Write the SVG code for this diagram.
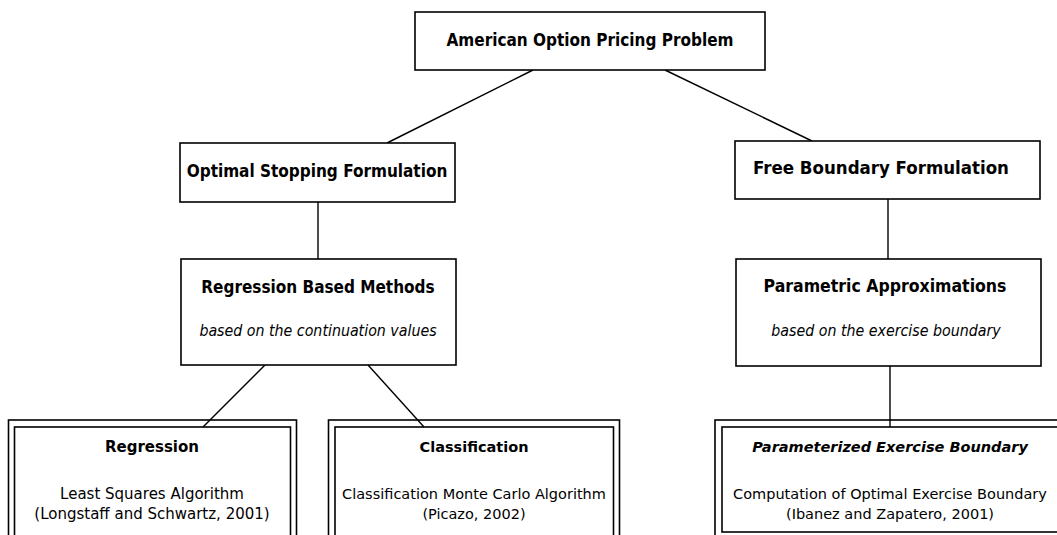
<svg xmlns="http://www.w3.org/2000/svg" width="1057" height="535" viewBox="0 0 1057 535">
  <style>
    .box { fill: #ffffff; stroke: #000000; stroke-width: 1.6; }
    .frame { fill: none; stroke: #000000; stroke-width: 1.6; }
    .link { stroke: #000000; stroke-width: 1.4; fill: none; }
    .head { font-family: "DejaVu Sans Condensed", "DejaVu Sans", sans-serif; font-weight: bold; font-size: 17px; text-anchor: middle; fill: #000; }
    .sub { font-family: "DejaVu Sans Condensed", "DejaVu Sans", sans-serif; font-style: oblique; font-size: 15.8px; text-anchor: middle; fill: #000; }
    .leafhead { font-family: "DejaVu Sans", sans-serif; font-weight: bold; font-size: 14.5px; text-anchor: middle; fill: #000; }
    .leaf { font-family: "DejaVu Sans", sans-serif; font-size: 14.5px; text-anchor: middle; fill: #000; }
  </style>
  <rect width="1057" height="535" fill="#ffffff"/>

  <!-- connectors -->
  <g id="connectors">
    <line class="link" x1="533" y1="70" x2="387" y2="143"/>
    <line class="link" x1="665" y1="70" x2="812" y2="141"/>
    <line class="link" x1="318" y1="202" x2="318" y2="259"/>
    <line class="link" x1="888" y1="199" x2="888" y2="259"/>
    <line class="link" x1="265" y1="365" x2="203" y2="427"/>
    <line class="link" x1="368" y1="365" x2="424" y2="427"/>
    <line class="link" x1="890" y1="366" x2="890" y2="427"/>
  </g>

  <g id="root">
    <rect class="box" x="415" y="12" width="350" height="58"/>
    <text class="head" x="590" y="46">American Option Pricing Problem</text>
  </g>

  <g id="optimal-stopping">
    <rect class="box" x="180" y="143" width="275" height="59"/>
    <text class="head" x="317" y="177">Optimal Stopping Formulation</text>
  </g>

  <g id="free-boundary">
    <rect class="box" x="735" y="141" width="305" height="58"/>
    <text class="head" x="881" y="174" style="font-size:18.5px">Free Boundary Formulation</text>
  </g>

  <g id="regression-methods">
    <rect class="box" x="181" y="259" width="275" height="106"/>
    <text class="head" x="318" y="293">Regression Based Methods</text>
    <text class="sub" x="318" y="336">based on the continuation values</text>
  </g>

  <g id="parametric">
    <rect class="box" x="736" y="259" width="305" height="107"/>
    <text class="head" x="885" y="292" style="font-size:17.5px">Parametric Approximations</text>
    <text class="sub" x="886" y="336">based on the exercise boundary</text>
  </g>

  <g id="regression">
    <rect class="frame" x="8.5" y="420" width="288" height="125"/>
    <rect class="frame" x="14.5" y="427" width="276" height="125"/>
    <text class="leafhead" x="152" y="452" style="font-size:15px">Regression</text>
    <text class="leaf" x="152" y="499" style="font-size:15px">Least Squares Algorithm</text>
    <text class="leaf" x="152" y="519" style="font-size:15px">(Longstaff and Schwartz, 2001)</text>
  </g>

  <g id="classification">
    <rect class="frame" x="328.5" y="420" width="291" height="125"/>
    <rect class="frame" x="335" y="427" width="278.5" height="125"/>
    <text class="leafhead" x="474" y="452">Classification</text>
    <text class="leaf" x="474" y="499">Classification Monte Carlo Algorithm</text>
    <text class="leaf" x="474" y="519">(Picazo, 2002)</text>
  </g>

  <g id="parameterized-boundary">
    <rect class="frame" x="715" y="420" width="360" height="125"/>
    <rect class="frame" x="722" y="427" width="346" height="105"/>
    <text class="leafhead" x="890" y="452" style="font-style:oblique">Parameterized Exercise Boundary</text>
    <text class="leaf" x="890" y="499">Computation of Optimal Exercise Boundary</text>
    <text class="leaf" x="890" y="519">(Ibanez and Zapatero, 2001)</text>
  </g>
</svg>
